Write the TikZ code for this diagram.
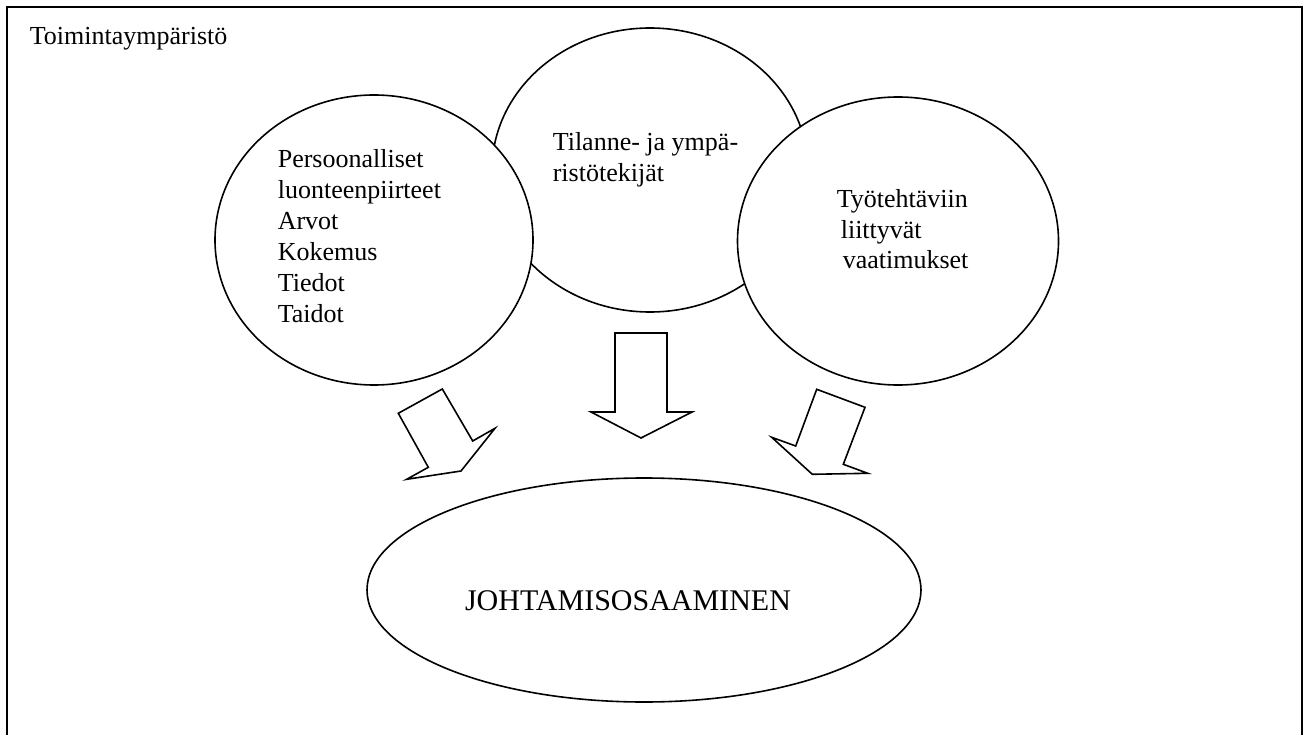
\documentclass[tikz,border=0pt]{standalone}
\usepackage{fontspec}
\setmainfont{Liberation Serif}
\usetikzlibrary{shapes.geometric}
\begin{document}
\begin{tikzpicture}[x=1pt,y=-1pt,
  line width=1.6pt,
  bubble/.style={ellipse, draw=black, fill=white, inner sep=0pt},
  lbl/.style={anchor=base west, inner sep=0pt, font=\fontsize{26}{30.5}\selectfont},
  blockarrow/.style={draw=black, fill=white, line join=miter}]
\useasboundingbox (0,0) rectangle (1306,735);
% frame (open at bottom)
\draw[line width=1.8pt] (7,735) -- (7,7) -- (1302,7) -- (1302,735);
\node[lbl] (env) at (29,45) {Toimintaympäristö};
% ellipses
\node[bubble, minimum width=316pt, minimum height=284pt] (mid) at (650,170) {};
\node[bubble, minimum width=318pt, minimum height=290pt] (left) at (374,240) {};
\node[bubble, minimum width=321pt, minimum height=288pt] (right) at (898,241) {};
\node[bubble, minimum width=554pt, minimum height=224pt] (goal) at (644,590) {};
% texts
\node[lbl] (l1) at (277,168) {Persoonalliset};
\node[lbl] (l2) at (277,199) {luonteenpiirteet};
\node[lbl] (l3) at (277,230) {Arvot};
\node[lbl] (l4) at (277,261) {Kokemus};
\node[lbl] (l5) at (277,291) {Tiedot};
\node[lbl] (l6) at (277,322) {Taidot};
\node[lbl] (m1) at (552,151) {Tilanne- ja ympä-};
\node[lbl] (m2) at (552,182) {ristötekijät};
\node[lbl] (r1) at (836,208) {Työtehtäviin};
\node[lbl] (r2) at (840,239) {liittyvät};
\node[lbl] (r3) at (842,269) {vaatimukset};
\node[anchor=base, inner sep=0pt, font=\fontsize{30}{34}\selectfont] (gtxt) at (628,610) {JOHTAMISOSAAMINEN};
% block arrows
\draw[blockarrow] (398.3,413.3) -- (442.3,389) -- (472.7,441) -- (495,428.3) -- (461,471) -- (406.7,479.3) -- (428.3,467.3) -- cycle;
\draw[blockarrow] (615,333) -- (667,333) -- (667,412) -- (692,412) -- (641,438) -- (591,412) -- (615,412) -- cycle;
\draw[blockarrow] (816.7,389.3) -- (865,407.3) -- (843.3,464.3) -- (867.7,473.3) -- (812.3,474.3) -- (771.7,437.3) -- (795.7,446) -- cycle;
\end{tikzpicture}
\end{document}
